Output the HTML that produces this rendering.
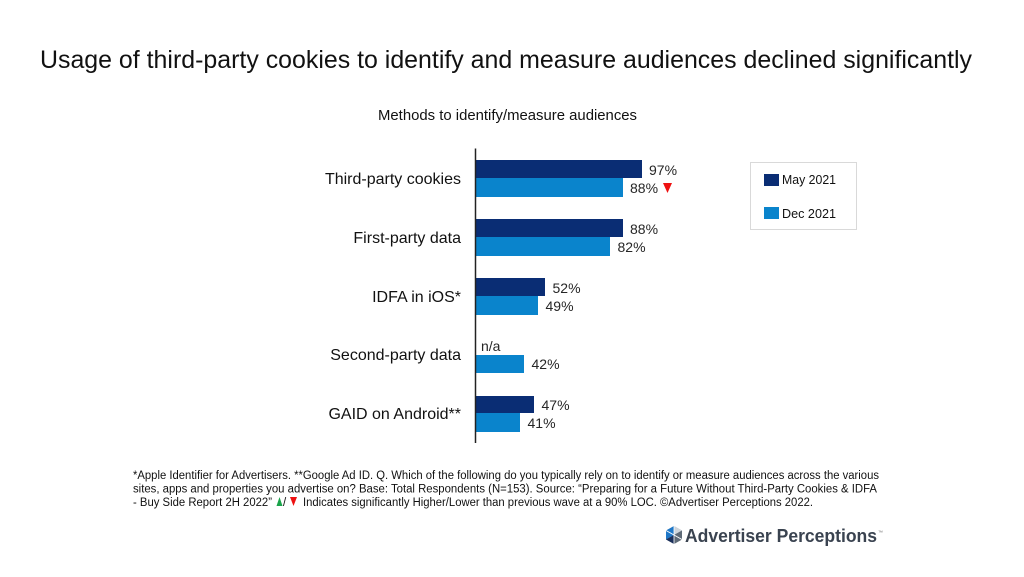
<!DOCTYPE html>
<html>
<head>
<meta charset="utf-8">
<style>
  html,body{margin:0;padding:0;background:#fff;}
  svg{display:block;}
  text{font-family:"Liberation Sans",Arial,sans-serif;}
</style>
</head>
<body>
<svg width="1024" height="577" viewBox="0 0 1024 577" xmlns="http://www.w3.org/2000/svg">
  <rect width="1024" height="577" fill="#fff"/>

  <!-- Title -->
  <text x="40" y="68" font-size="25" fill="#111" textLength="932" lengthAdjust="spacingAndGlyphs">Usage of third-party cookies to identify and measure audiences declined significantly</text>

  <!-- Subtitle -->
  <text x="378" y="120" font-size="15" fill="#111" textLength="259" lengthAdjust="spacingAndGlyphs">Methods to identify/measure audiences</text>

  <!-- Bars -->
  <g>
    <!-- Third-party cookies -->
    <rect x="476" y="160" width="166" height="18" fill="#0a2d74"/>
    <rect x="476" y="178" width="147" height="19" fill="#0a84cc"/>
    <!-- First-party data -->
    <rect x="476" y="219" width="147" height="18" fill="#0a2d74"/>
    <rect x="476" y="237" width="134" height="19" fill="#0a84cc"/>
    <!-- IDFA -->
    <rect x="476" y="278" width="69" height="18" fill="#0a2d74"/>
    <rect x="476" y="296" width="62" height="19" fill="#0a84cc"/>
    <!-- Second-party -->
    <rect x="476" y="355" width="48" height="18" fill="#0a84cc"/>
    <!-- GAID -->
    <rect x="476" y="396" width="58" height="17" fill="#0a2d74"/>
    <rect x="476" y="413" width="44" height="19" fill="#0a84cc"/>
  </g>

  <!-- Axis -->
  <line x1="475.5" y1="148.5" x2="475.5" y2="443" stroke="#222" stroke-width="1.5"/>

  <!-- Category labels -->
  <g font-size="16" fill="#111" text-anchor="end">
    <text x="461" y="184">Third-party cookies</text>
    <text x="461" y="243">First-party data</text>
    <text x="461" y="302">IDFA in iOS*</text>
    <text x="461" y="360">Second-party data</text>
    <text x="461" y="419">GAID on Android**</text>
  </g>

  <!-- Value labels -->
  <g font-size="14" fill="#262626">
    <text x="649" y="175">97%</text>
    <text x="630" y="193">88%</text>
    <text x="630" y="234">88%</text>
    <text x="617.5" y="252">82%</text>
    <text x="552.5" y="293">52%</text>
    <text x="545.5" y="311">49%</text>
    <text x="481" y="351">n/a</text>
    <text x="531.5" y="369">42%</text>
    <text x="541.5" y="410">47%</text>
    <text x="527.5" y="428">41%</text>
  </g>
  <polygon points="663,183 672,183 667.5,193" fill="#ee1111"/>

  <!-- Legend -->
  <rect x="750.5" y="162.5" width="106" height="67" fill="#fff" stroke="#d9d9d9" stroke-width="1"/>
  <rect x="764" y="174" width="15" height="12" fill="#0a2d74"/>
  <rect x="764" y="207" width="15" height="12" fill="#0a84cc"/>
  <text x="782" y="184" font-size="12.5" fill="#111" textLength="54" lengthAdjust="spacingAndGlyphs">May 2021</text>
  <text x="782" y="218" font-size="12.5" fill="#111" textLength="54" lengthAdjust="spacingAndGlyphs">Dec 2021</text>

  <!-- Footnote -->
  <g font-size="11.5" fill="#111" style="white-space:pre">
    <text x="133" y="479" textLength="746" lengthAdjust="spacingAndGlyphs">*Apple Identifier for Advertisers. **Google Ad ID.  Q. Which of the following do you typically rely on to identify or measure audiences across the various</text>
    <text x="133" y="492.5" textLength="744" lengthAdjust="spacingAndGlyphs">sites, apps and properties you advertise on?   Base: Total Respondents (N=153). Source: “Preparing for a Future Without Third-Party Cookies &amp; IDFA</text>
    <text x="133" y="506" textLength="139" lengthAdjust="spacingAndGlyphs">- Buy Side Report 2H 2022”</text>
    <text x="283" y="506">/</text>
    <text x="303" y="506" textLength="510" lengthAdjust="spacingAndGlyphs">Indicates significantly Higher/Lower than previous wave at a 90% LOC.  ©Advertiser Perceptions 2022.</text>
  </g>
  <polygon points="276.5,506 282.5,506 279.5,497" fill="#1aa34a"/>
  <polygon points="290,497 297,497 293.5,506" fill="#ee1111"/>

  <!-- Logo -->
  <g transform="translate(674,535)">
    <polygon points="0,-9 8,-4.5 8,4.5 0,9 -8,4.5 -8,-4.5" fill="#9aa3ad"/>
    <polygon points="0,-9 -8,-4.5 -8,4.5 0,0" fill="#1f78c8"/>
    <polygon points="-8,4.5 0,9 0,0" fill="#1b2f5a"/>
    <polygon points="0,-9 8,-4.5 0,0" fill="#cfd5db"/>
    <polygon points="8,-4.5 8,4.5 0,9 0,0" fill="#5e6a77"/>
    <line x1="-8" y1="-4.5" x2="8" y2="4.5" stroke="#fff" stroke-width="1"/>
    <line x1="0" y1="-9" x2="0" y2="9" stroke="#fff" stroke-width="0.8"/>
  </g>
  <text x="685" y="542" font-size="18" font-weight="bold" fill="#3a4350" textLength="192" lengthAdjust="spacingAndGlyphs">Advertiser Perceptions</text>
  <text x="878" y="534" font-size="5" fill="#777">™</text>
</svg>
</body>
</html>
